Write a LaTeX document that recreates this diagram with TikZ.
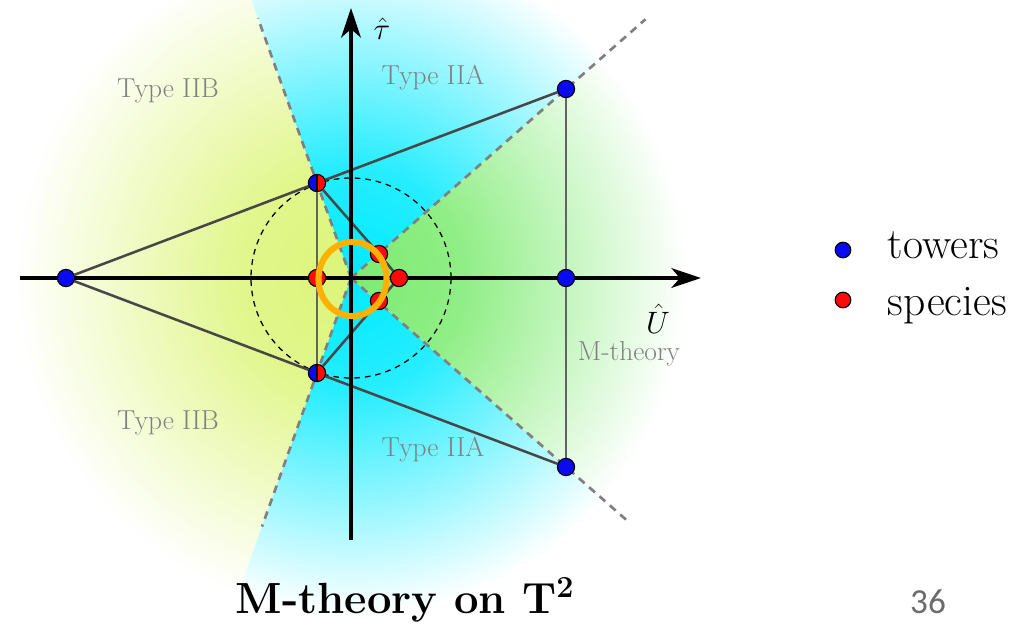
\RequirePackage{fix-cm}
\documentclass[tikz,border=0pt]{standalone}
\usepackage{amsmath,amssymb}
\usepackage{fontspec}
\newfontfamily\slidefont{Carlito}
\usepackage{tikz}
\usetikzlibrary{arrows.meta,positioning,calc,backgrounds}
\definecolor{iib}{HTML}{DCF578}
\definecolor{iia}{HTML}{00EAFF}
\definecolor{mth}{HTML}{7CEB70}
\definecolor{tower}{HTML}{0A0AF0}
\definecolor{species}{HTML}{FF0A0A}
\definecolor{ink}{HTML}{474747}
\definecolor{ring}{HTML}{FFB000}
\definecolor{region}{HTML}{808080}
\pgfdeclareradialshading{iibglow}{\pgfpoint{0bp}{0bp}}{color(0bp)=(iib); color(7bp)=(iib!85!white); color(21bp)=(white); color(50bp)=(white)}
\pgfdeclareradialshading{iiaglow}{\pgfpoint{0bp}{0bp}}{color(0bp)=(iia); color(7bp)=(iia!85!white); color(21bp)=(white); color(50bp)=(white)}
\pgfdeclareradialshading{mthglow}{\pgfpoint{0bp}{0bp}}{color(0bp)=(mth); color(7bp)=(mth!85!white); color(21bp)=(white); color(50bp)=(white)}
\tikzset{
  dot/.style={circle,draw=black,line width=0.8pt,minimum size=4.3mm,inner sep=0pt},
  tower/.style={dot,fill=tower},
  species/.style={dot,fill=species},
  mixed/.style={dot,fill=species,path picture={\fill[tower] (path picture bounding box.south west) rectangle (path picture bounding box.north);}},
  axis/.style={line width=2.5pt,draw=black,-{Stealth[length=21pt,width=14pt,inset=6pt]}},
  edge/.style={line width=1.8pt,draw=ink},
  rung/.style={line width=1.3pt,draw=ink!85!white},
  wall/.style={line width=1.9pt,draw=region,dash pattern=on 5.5pt off 4.3pt},
  rim/.style={line width=0.9pt,draw=black,dash pattern=on 4pt off 3.5pt},
  region/.style={text=region,font=\fontsize{19.5}{22}\selectfont},
  legtext/.style={anchor=base west,font=\fontsize{31}{34}\selectfont}
}
\newcommand{\angM}{41.3}
\newcommand{\angB}{109.7}

\begin{document}
\begin{tikzpicture}[x=0.025cm,y=0.025cm]
  \useasboundingbox (-351,-348) rectangle (683,278);
  \coordinate (O) at (0,0);

  % towers and species
  \node[tower] (L) at (-285,0) {};
  \node[tower] (R) at (215,0) {};
  \node[tower] (TR) at (215,189) {};
  \node[tower] (BR) at (215,-189) {};
  \node[mixed] (HU) at (-34,95) {};
  \node[mixed] (HD) at (-34,-95) {};
  \node[species] (SL) at (-34,0) {};
  \node[species] (SR) at (48,0) {};
  \node[species] (SU) at (28,24) {};
  \node[species] (SD) at (28,-23) {};

  \begin{scope}[on background layer]
    % glow of the three regions
    \begin{scope}
      \clip (O) -- (\angB:600) -- (180:600) -- (-\angB:600) -- cycle;
      \shade[shading=iibglow] (O) circle (400);
    \end{scope}
    \begin{scope}
      \clip (O) -- (\angM:600) -- (90:600) -- (\angB:600) -- cycle;
      \shade[shading=iiaglow] (O) circle (400);
    \end{scope}
    \begin{scope}
      \clip (O) -- (-\angM:600) -- (-90:600) -- (-\angB:600) -- cycle;
      \shade[shading=iiaglow] (O) circle (400);
    \end{scope}
    \begin{scope}
      \clip (O) -- (\angM:600) -- (0:600) -- (-\angM:600) -- cycle;
      \shade[shading=mthglow] (O) circle (400);
    \end{scope}

    \coordinate (wallUR) at (\angM:392);
    \coordinate (wallDR) at (-\angM:370);
    \coordinate (wallUL) at (\angB:276);
    \coordinate (wallDL) at (-\angB:264);
    \draw[wall] (O) -- (wallUR);
    \draw[wall] (O) -- (wallDR);
    \draw[wall] (O) -- (wallUL);
    \draw[wall] (O) -- (wallDL);
    \draw[rim] (O) circle (100);

    \draw[edge] (L) -- (HU); \draw[edge] (L) -- (HD);
    \draw[edge] (HU) -- (TR); \draw[edge] (HD) -- (BR);
    \draw[edge] (HU) -- (SU); \draw[edge] (SU) -- (SR);
    \draw[edge] (HD) -- (SD); \draw[edge] (SD) -- (SR);
    \draw[rung] (HU) -- (HD); \draw[rung] (TR) -- (BR);

    \coordinate (uStart) at (-331,0);
    \coordinate (uEnd) at (350,0);
    \coordinate (tStart) at (0,-262);
    \coordinate (tEnd) at (0,270);
    \draw[axis] (uStart) -- (uEnd);
    \draw[axis] (tStart) -- (tEnd);
  \end{scope}

  \draw[ring,line width=4.4pt] (1.5,-1) ellipse (34 and 37);

  \node[font=\fontsize{22}{24}\selectfont,inner sep=1pt] (tau) at (31,249) {$\hat{\tau}$};
  \node[font=\fontsize{22}{24}\selectfont,inner sep=1pt] (U) at (307,-41) {$\hat{U}$};
  \node[region] (iibUp) at (-183,187) {Type IIB};
  \node[region] (iibDown) at (-183,-145) {Type IIB};
  \node[region] (iiaUp) at (82,200) {Type IIA};
  \node[region] (iiaDown) at (82,-172) {Type IIA};
  \node[region] (mLabel) at (278,-76) {M-theory};

  % legend
  \node[tower,minimum size=3.9mm] (towerKey) at (492,28) {};
  \node[species,minimum size=3.9mm] (speciesKey) at (492,-22) {};
  \node[legtext] (towerText) at (532,20) {towers};
  \node[legtext] (speciesText) at (532,-37) {species};

  \node[font=\fontsize{31}{36}\selectfont\bfseries] (title) at (54,-322) {M-theory on T\textsuperscript{2}};
  \node[font=\slidefont\fontsize{25}{28}\selectfont,text=black!58] (page) at (577,-324) {36};
\end{tikzpicture}
\end{document}
